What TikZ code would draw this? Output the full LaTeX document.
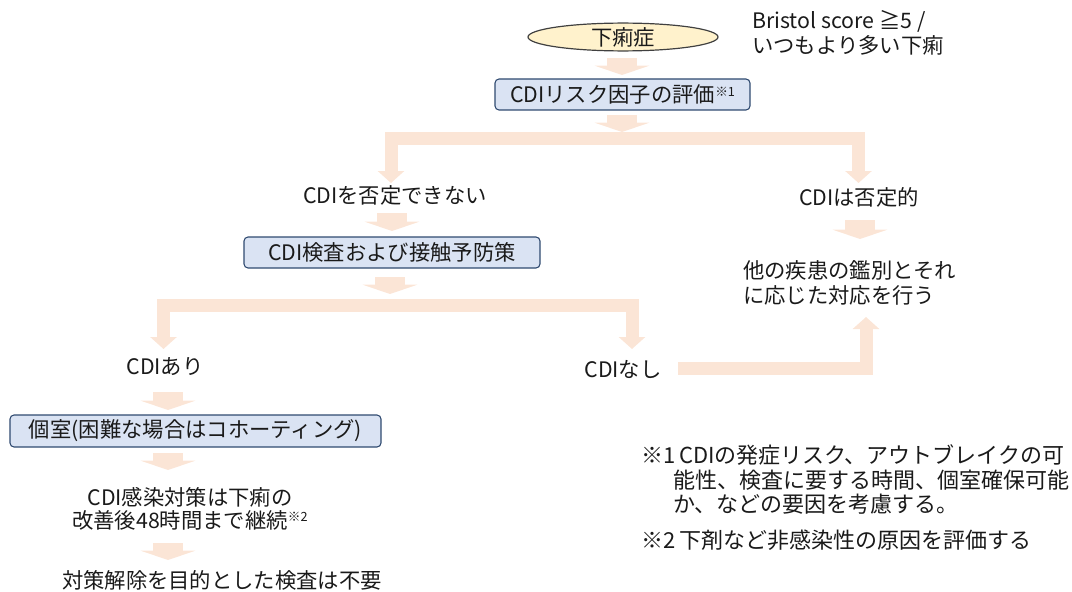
\documentclass[tikz,border=0pt]{standalone}
\usepackage{fontspec}
\setmainfont{Noto Sans CJK JP}
\usetikzlibrary{arrows.meta,shapes.geometric}
\definecolor{arrowc}{HTML}{FBE5D6}
\definecolor{boxfill}{HTML}{DAE3F3}
\definecolor{boxdraw}{HTML}{2F4A70}
\definecolor{ellfill}{HTML}{FFF2CC}
\definecolor{txt}{HTML}{1A1A1A}
\newcommand{\supmark}[1]{\raisebox{0.55ex}{\fontsize{9.5pt}{10pt}\selectfont #1}}
\tikzset{
  btip/.tip={Triangle[width=19.5pt,length=9pt]},
  ctip/.tip={Triangle[width=41pt,length=7pt]},
  bigarrow/.style={draw=arrowc, line width=22pt, -ctip},
  branch/.style={draw=arrowc, line width=9.75pt, line join=miter},
  txtn/.style={text=txt, inner sep=0pt, font=\fontsize{16pt}{18.75pt}\selectfont},
  bx/.style={txtn, draw=boxdraw, fill=boxfill, line width=0.8pt, rounded corners=3pt, minimum height=23.25pt},
  ell/.style={txtn, ellipse, draw=black!75, fill=ellfill, line width=0.9pt, minimum width=142.5pt, minimum height=19pt},
  fn/.style={text=txt, inner sep=0pt, anchor=west, font=\fontsize{16.5pt}{18.75pt}\selectfont}
}
\begin{document}
\begin{tikzpicture}[x=0.75pt,y=-0.75pt]
\useasboundingbox (0,0) rectangle (1072,592);
% block arrows (drawn first)
\coordinate (a1s) at (622,58);   \coordinate (a1e) at (622,75);
\coordinate (a2s) at (622,115);  \coordinate (a2e) at (622,132);
\coordinate (a3s) at (392,213);  \coordinate (a3e) at (392,231);
\coordinate (a4s) at (390,277);  \coordinate (a4e) at (390,294);
\coordinate (a5s) at (860,220);  \coordinate (a5e) at (860,239);
\coordinate (a6s) at (168,392);  \coordinate (a6e) at (168,410);
\coordinate (a7s) at (168,453);  \coordinate (a7e) at (168,470);
\coordinate (a8s) at (168,543);  \coordinate (a8e) at (168,560);
\foreach \i in {1,...,8} {\draw[bigarrow] (a\i s) -- (a\i e);}
% branch connectors
\coordinate (b1l) at (391,183); \coordinate (b1r) at (858.5,183);
\draw[branch, btip-btip] (b1l) -- (391,139) -- (858.5,139) -- (b1r);
\coordinate (b2l) at (163.5,349); \coordinate (b2r) at (632,349);
\draw[branch, btip-btip] (b2l) -- (163.5,305.5) -- (632,305.5) -- (b2r);
\coordinate (c1) at (678,368.5); \coordinate (c2) at (866,317);
\draw[branch, -btip] (c1) -- (866,368.5) -- (c2);
% nodes
\node[ell] (n1) at (623,37) {下痢症};
\node[txtn, anchor=west, align=left] (bris) at (752,32.5) {Bristol score ≧5 /\\いつもより多い下痢};
\node[bx, minimum width=191.25pt] (n2) at (622.5,94.5) {CDIリスク因子の評価\supmark{※1}};
\node[txtn] (n3) at (395,195) {CDIを否定できない};
\node[txtn] (n4) at (859,197) {CDIは否定的};
\node[bx, minimum width=222pt] (n5) at (392,252.5) {CDI検査および接触予防策};
\node[txtn, anchor=west, align=left] (n6) at (743,282.5) {他の疾患の鑑別とそれ\\に応じた対応を行う};
\node[txtn] (n7) at (165,367) {CDIあり};
\node[txtn] (n8) at (623,369) {CDIなし};
\node[bx, minimum width=278.25pt, minimum height=24pt] (n9) at (195.5,431) {個室(困難な場合はコホーティング)};
\node[txtn, align=center, font=\fontsize{16pt}{17.25pt}\selectfont] (n10) at (190,508.5) {CDI感染対策は下痢の\\改善後48時間まで継続\supmark{※2}};
\node[txtn] (n11) at (222,580) {対策解除を目的とした検査は不要};
% footnotes
\node[fn] (f1) at (641,455) {※1};
\node[fn] (f1a) at (679,455) {CDIの発症リスク、アウトブレイクの可};
\node[fn] (f1b) at (673,480) {能性、検査に要する時間、個室確保可能};
\node[fn] (f1c) at (673,504) {か、などの要因を考慮する。};
\node[fn] (f2) at (641,540) {※2};
\node[fn] (f2a) at (679,540) {下剤など非感染性の原因を評価する};
\end{tikzpicture}
\end{document}
